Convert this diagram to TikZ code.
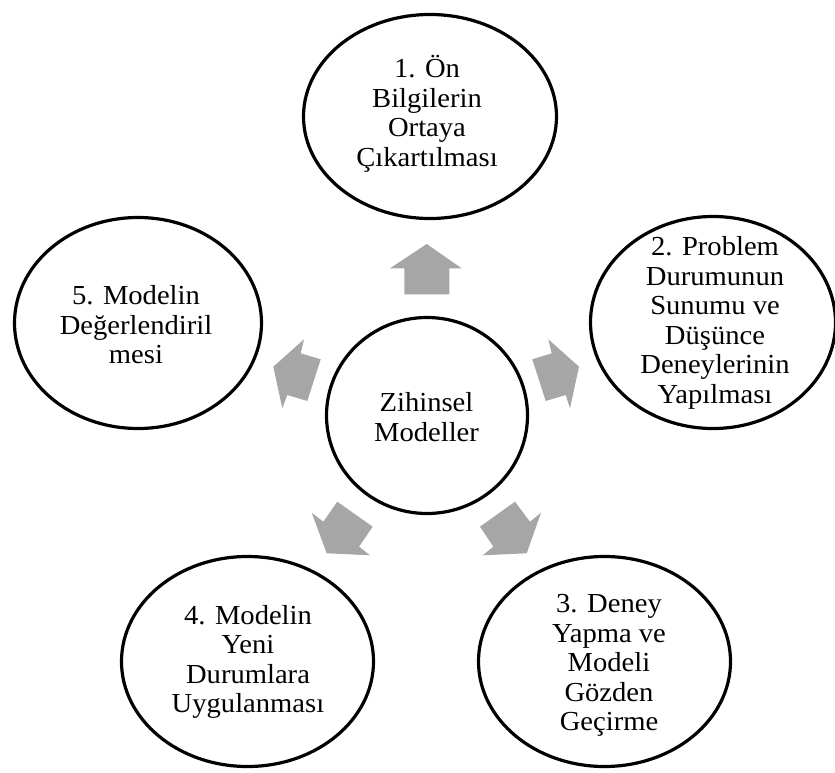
\documentclass[tikz,border=0pt]{standalone}
\usepackage{fontspec}
\setmainfont{Liberation Serif}[FakeStretch=1.04]
\usetikzlibrary{shapes.geometric}
\definecolor{arrowgray}{HTML}{A6A6A6}
\tikzset{
  bubble/.style={ellipse, draw=black, line width=3.2pt, fill=white, inner sep=0pt},
  lbl/.style={align=center, inner sep=0pt, font=\fontsize{27.5}{29.5}\selectfont},
  blockarrow/.style={fill=arrowgray, draw=none}
}
\begin{document}
\begin{tikzpicture}[x=1pt, y=-1pt]
\useasboundingbox (0,0) rectangle (835,773);
% ellipses
\node[bubble, minimum width=253pt, minimum height=204pt] (e1) at (430,116.5) {};
\node[bubble, minimum width=245pt, minimum height=212pt] (e2) at (713,322.5) {};
\node[bubble, minimum width=252pt, minimum height=210pt] (e3) at (604.5,661.5) {};
\node[bubble, minimum width=252pt, minimum height=210pt] (e4) at (247.5,661.5) {};
\node[bubble, minimum width=247pt, minimum height=211pt] (e5) at (138,323) {};
\node[bubble, minimum width=201pt, minimum height=196pt] (c) at (427,415.5) {};
% labels
\node[lbl] (t1) at (427,114) {1. Ön\\Bilgilerin\\Ortaya\\Çıkartılması};
\node[lbl] (t2) at (715,323) {2. Problem\\Durumunun\\Sunumu ve\\Düşünce\\Deneylerinin\\Yapılması};
\node[lbl] (t3) at (609,665.5) {3. Deney\\Yapma ve\\Modeli\\Gözden\\Geçirme};
\node[lbl] (t4) at (248,662) {4. Modelin\\Yeni\\Durumlara\\Uygulanması};
\node[lbl] (t5) at (136,325) {5. Modelin\\Değerlendiril\\mesi};
\node[lbl] (tc) at (426.5,417) {Zihinsel\\Modeller};
% block arrows
\fill[blockarrow] (426.7,244) -- (461.7,268.3) -- (449.3,268.3) -- (449.3,294.3) -- (404.3,294.3) -- (404.3,268.3) -- (390,268.3) -- cycle;
\fill[blockarrow] (579,366.7) -- (570,408.3) -- (565.7,395) -- (545.7,401) -- (532.3,359.3) -- (551.7,353.3) -- (548.3,339.3) -- cycle;
\fill[blockarrow] (273.3,366.7) -- (282.3,408.3) -- (287.3,395) -- (307.3,401) -- (320.7,359.3) -- (300.7,353.3) -- (304,339.3) -- cycle;
\fill[blockarrow] (326.7,553.3) -- (311.7,512.7) -- (323.3,521.7) -- (337.3,501.7) -- (372.7,526.7) -- (359,546.7) -- (370,555.3) -- cycle;
\fill[blockarrow] (526.7,553.3) -- (541,512.7) -- (530,521.7) -- (515,501.7) -- (480,526.7) -- (493.3,546.7) -- (482.7,555.3) -- cycle;
\end{tikzpicture}
\end{document}
